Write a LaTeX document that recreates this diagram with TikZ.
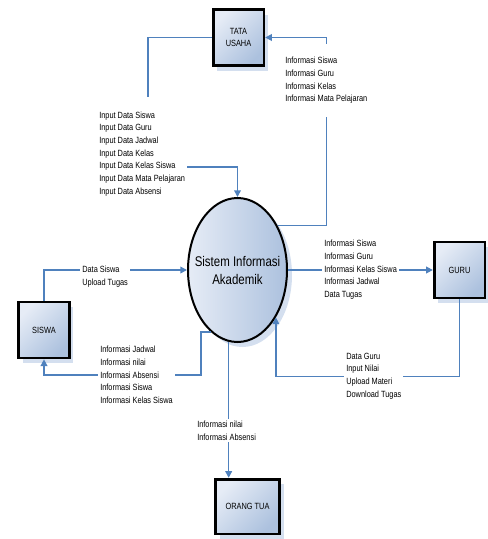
\documentclass[tikz,border=0pt]{standalone}
\usepackage{fontspec}
\newfontfamily\narrowsans{Liberation Sans}[FakeStretch=0.82]
\usetikzlibrary{arrows.meta,shapes.geometric,shadows,positioning}
\definecolor{flowblue}{RGB}{79,129,189}
\definecolor{boxlight}{RGB}{230,236,246}
\definecolor{boxdark}{RGB}{172,193,222}
\definecolor{shadowblue}{RGB}{212,223,239}
\tikzset{
    entity/.style={
        rectangle,
        draw=black,
        line width=2pt,
        top color=boxlight,
        bottom color=boxdark,
        shading angle=45,
        minimum width=38pt,
        minimum height=42pt,
        inner sep=2pt,
        align=center,
        text=black,
        font=\narrowsans\fontsize{6.75pt}{8.75pt}\selectfont,
        drop shadow={shadow xshift=3pt,shadow yshift=-3.75pt,fill=shadowblue,opacity=1}
    },
    process/.style={
        ellipse,
        draw=black,
        line width=1.5pt,
        left color=boxlight,
        right color=boxdark,
        minimum width=74.25pt,
        minimum height=108pt,
        inner xsep=-7pt,
        inner ysep=0pt,
        align=center,
        text=black,
        font=\narrowsans\fontsize{10.5pt}{13.5pt}\selectfont,
        drop shadow={shadow xshift=3.75pt,shadow yshift=-3.75pt,fill=shadowblue,opacity=1}
    },
    flowtext/.style={
        anchor=west,
        align=left,
        fill=white,
        inner xsep=1.5pt,
        inner ysep=1.5pt,
        text=black,
        font=\narrowsans\fontsize{6.75pt}{9.5pt}\selectfont
    },
    link/.style={
        draw=flowblue,
        line width=1.1pt
    },
    flow/.style={
        link,
        -{Triangle[length=5pt,width=5pt]}
    }
}

\begin{document}
\begin{tikzpicture}[x=0.75pt,y=-0.75pt]
    \useasboundingbox (0,0) rectangle (488,539);
    \node [process] (sia) at (237.5,270) {Sistem Informasi\\Akademik};
    \node [entity] (tu) at (238.5,37.5) {TATA\\USAHA};
    \node [entity] (guru) at (459.5,270) {GURU};
    \node [entity] (siswa) at (44,330) {SISWA};
    \node [entity,minimum width=48pt,minimum height=41pt] (ortu) at (247.5,506.5) {ORANG TUA};
    \node [flowtext] (ind) at (97,154) {Input Data Siswa\\Input Data Guru\\Input Data Jadwal\\Input Data Kelas\\Input Data Kelas Siswa\\Input Data Mata Pelajaran\\Input Data Absensi};
    \node [flowtext,inner ysep=10pt] (itu) at (283,80.5) {Informasi Siswa\\Informasi Guru\\Informasi Kelas\\Informasi Mata Pelajaran};
    \coordinate (indin) at (148,97);
    \coordinate (indout) at (187,167);
    \draw [link] (tu.west) -| (indin);
    \draw [flow] (indout) -| (sia.north);
    \draw [link] (sia.48) -| (itu.south);
    \draw [flow] (itu.north) |- (tu.east);
    \draw [flow] (sia.east) -- (guru.west);
    \draw [flow] (siswa.north) |- (sia.west);
    \draw [flow] (sia.247) -- ++(-10,0) -- ++(0,43) -| (siswa.south);
    \draw [flow] (guru.south) -- ++(0,77) -| (sia.309);
    \draw [flow] (sia.263) -- (sia.263 |- ortu.north);
    \node [flowtext] (itg) at (322,270) {Informasi Siswa\\Informasi Guru\\Informasi Kelas Siswa\\Informasi Jadwal\\Data Tugas};
    \node [flowtext] (ids) at (80,277) {Data Siswa\\Upload Tugas};
    \node [flowtext] (iss) at (98,375) {Informasi Jadwal\\Informasi nilai\\Informasi Absensi\\Informasi Siswa\\Informasi Kelas Siswa};
    \node [flowtext] (idg) at (344,376) {Data Guru\\Input Nilai\\Upload Materi\\Download Tugas};
    \node [flowtext] (iot) at (195,430.5) {Informasi nilai\\Informasi Absensi};
\end{tikzpicture}
\end{document}
